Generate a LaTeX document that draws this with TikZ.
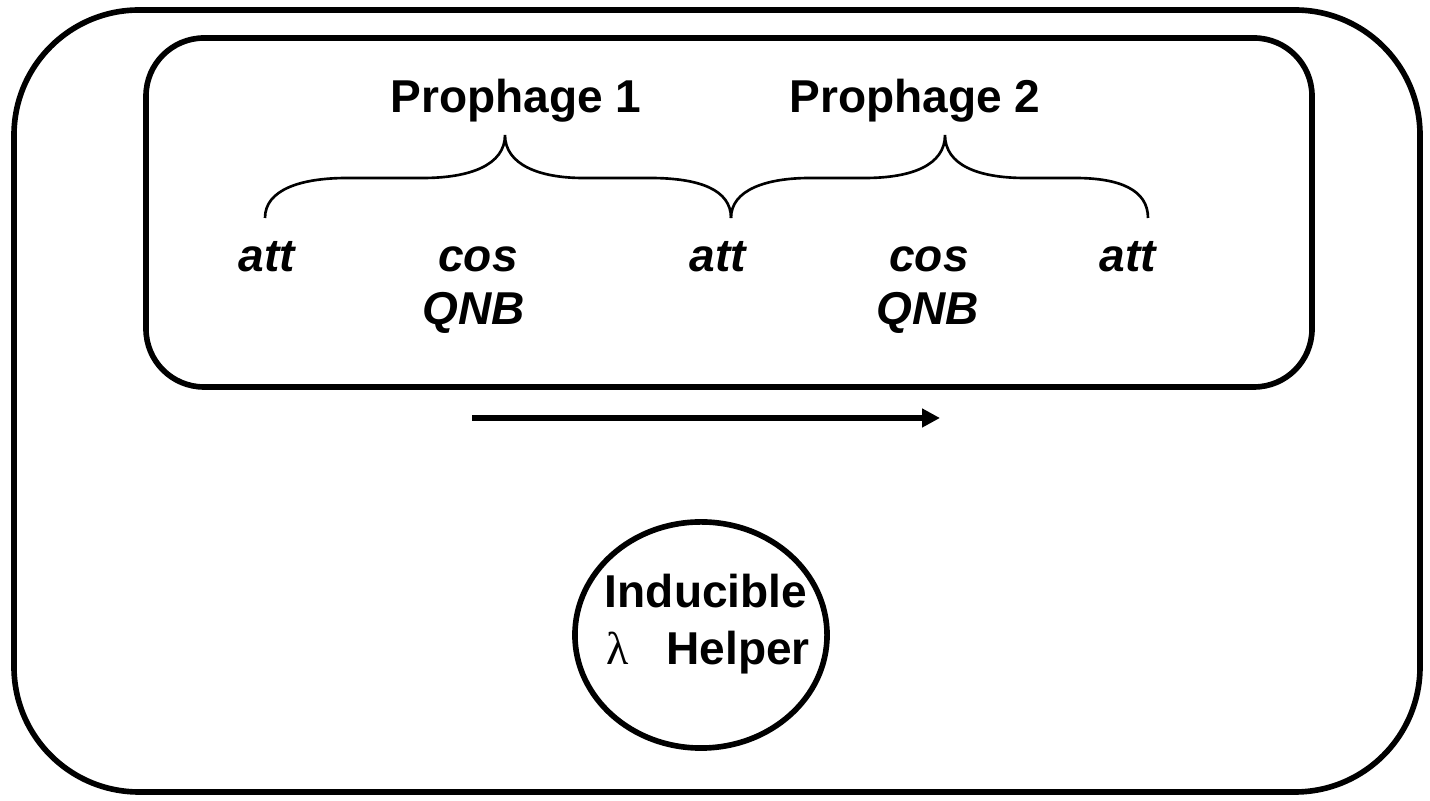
\documentclass[tikz,border=0pt]{standalone}
\usepackage{fontspec}
\setmainfont{Liberation Sans}
\newfontfamily\lambdafont{Liberation Serif}
\usetikzlibrary{arrows.meta}

\tikzset{
    gene/.style={font=\fontsize{13.1}{16}\selectfont\bfseries\itshape, anchor=base},
    phage/.style={font=\fontsize{13.1}{16}\selectfont\bfseries, anchor=base},
    cellwall/.style={line width=1.6pt}
}

\begin{document}
\begin{tikzpicture}[x=0.01cm, y=-0.01cm]
                \useasboundingbox (0,0) rectangle (1430,801);
                \draw[cellwall, rounded corners=1.25cm]
                    (14,10) rectangle (1420,792);
                \draw[cellwall, rounded corners=0.58cm]
                    (146,38) rectangle (1312,387);
                \node[phage] (prophage1) at (516,113) {Prophage 1};
                \node[phage] (prophage2) at (915,113) {Prophage 2};
                \draw[line width=0.75pt]
                    (265,218) .. controls (265,190) and (300,178) .. (347,178) -- (423,178)
                    .. controls (470,178) and (505,165) .. (505,135)
                    .. controls (505,165) and (540,178) .. (583,178) -- (650,178)
                    .. controls (700,178) and (731,190) .. (731,218);
                \draw[line width=0.75pt]
                    (731,218) .. controls (731,190) and (766,178) .. (810,178) -- (865,178)
                    .. controls (912,178) and (945,165) .. (945,135)
                    .. controls (945,165) and (978,178) .. (1025,178) -- (1075,178)
                    .. controls (1120,178) and (1148,190) .. (1148,218);
                \node[gene] (att1) at (267,272) {att};
                \node[gene] (cos1) at (478,272) {cos};
                \node[gene] (qnb1) at (474,325) {QNB};
                \node[gene] (att2) at (718,272) {att};
                \node[gene] (cos2) at (929,272) {cos};
                \node[gene] (qnb2) at (928,325) {QNB};
                \node[gene] (att3) at (1128,272) {att};
                \coordinate (arrowstart) at (472,418);
                \coordinate (arrowend) at (940,418);
                \draw[line width=1.9pt, -{Triangle[length=0.18cm, width=0.18cm]}]
                    (arrowstart) -- (arrowend);
                \draw[cellwall]
                    (701,635) ellipse [x radius=1.26cm, y radius=1.13cm];
                \node[phage] (inducible) at (706,608) {Inducible};
                \node[phage] (lambda) at (618,665) {\lambdafont\mdseries λ};
                \node[phage] (helper) at (738,665) {Helper};
            \end{tikzpicture}
\end{document}
